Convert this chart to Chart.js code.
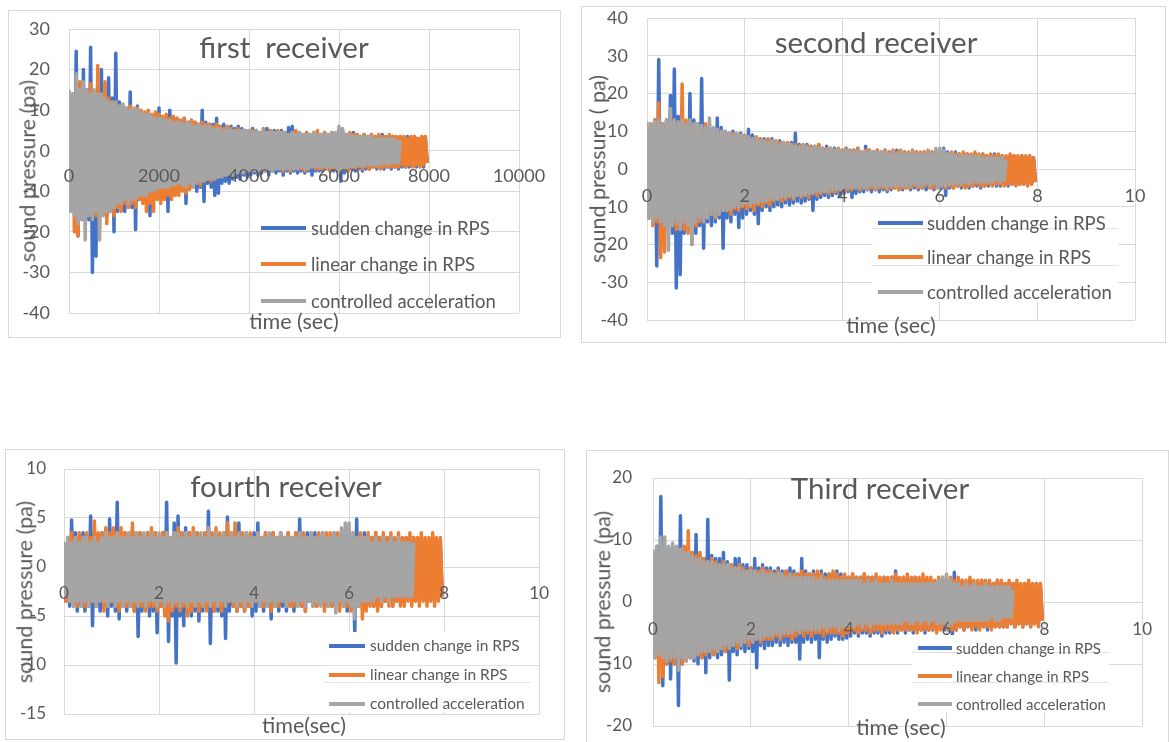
<!DOCTYPE html>
<html>
<head>
<meta charset="utf-8">
<title>Sound pressure at four receivers</title>
<script src="https://cdn.jsdelivr.net/npm/chart.js@4.4.1/dist/chart.umd.min.js"></script>
<style>
  html, body { margin: 0; padding: 0; background: #fff; }
  body { position: relative; width: 1169px; height: 742px; overflow: hidden;
         font-family: Lato, "Open Sans", sans-serif; color: #595959; }
  .frame { position: absolute; border: 1px solid #d9d9d9; box-sizing: border-box; }
  canvas { position: absolute; }
  .txt { position: absolute; white-space: pre; line-height: 1; color: #595959; }
  .legend-bg { position: absolute; background: #fff; }
  .legend-rule { position: absolute; height: 1px; background: #e3e3e3; }
  .legend-line { position: absolute; height: 4px; }
</style>
</head>
<body>
<script>
// ---- sampled sound pressure (Pa) ----
// first receiver: time in samples, one value every 40 samples
const firstStep = 40;
const firstSudden = [
  10,-12,14,-15,24.5,-21,13,-16,20,-14,15,-17,25.5,-30,12,-26,14,-15,20,-13,
  12,-16,18,-14,13,-20,24,-15,12,-13,11,-15,10,-12,14.5,-14,10,-19.5,11,-12,
  9.5,-12,9,-11,9.5,-16,8.5,-12,9,-10.5,10.5,-11,8,-10,8.5,-15,10,-10,8,-9.5,
  8,-10,7.5,-9,8,-13,7,-9.5,7.5,-8.5,7,-10,6.5,-9,10,-12.5,7,-8,6.5,-9,
  6.5,-11,8,-10.5,6,-8,6.5,-7.5,5.5,-8,6,-7,5.5,-6.5,6,-7,5.5,-6,5,-6.5,
  5,-6,5.5,-5.5,5,-6,4.5,-5.5,5,-5,5.5,-6,4.5,-5,5,-5.5,4.5,-5,5,-6,
  4.5,-5,5.7,-5.5,6,-5,4.5,-5.5,4.5,-5,4,-5.5,4.5,-5,4,-6,4.5,-5,4,-5,
  4,-5,4.5,-4.5,4,-5,4.5,-5,4,-4.5,5.5,-7.5,5,-5.5,4,-5,4,-4.5,4.5,-5,
  4,-4.5,3.5,-5,4,-4.5,3.5,-4.5,4,-4,3.5,-4.5,3.5,-4,4,-4.5,3.5,-4,3.5,-4.5,
  3.5,-4,3,-4.5,3.5,-4,3,-4,3.5,-4,3,-3.5,3.5,-4,3,-3.5,3.5,-4,3,-3
];
const firstLinear = [
  12,-14,13,-20,12,-21,17,-15,13,-16,12,-14,16.5,-15,13,-16,21,-19.5,14,-15,
  17,-18,13,-15,12,-16,12,-14,11,-15,11,-13,10.5,-14,11,-13,10,-14,10.5,-12,
  10,-13,9.5,-15,10,-13,9,-15,9.5,-12,9,-13,8.5,-12,9,-11,8,-12,8.5,-11,
  8,-11,7.5,-10,8,-10.5,7,-9.5,7.5,-9,7,-8,6.5,-8.5,7,-7.5,6.5,-7,6.5,-7.5,
  6,-7,6.5,-6.5,6,-6,5.5,-6,6,-5.5,5.5,-5.5,5,-5,5.5,-5.5,5,-5,5,-5,
  4.5,-5,5,-4.5,5,-5,4.5,-4.5,5.5,-5,4.5,-4.5,5,-5,4.5,-4,5,-4.5,4.5,-5,
  4.5,-4.5,4,-5,4.5,-4.5,5,-4,4.5,-4.5,4,-5,4.5,-4.5,4,-4,4.5,-4.5,5,-4.5,
  4,-4.5,4.5,-4,4,-5,4.5,-4.5,4,-4,4,-4.5,4.5,-4.5,4,-5,4.5,-4,4,-4.5,
  4,-4,3.5,-4.5,4,-4,3.5,-4.5,4,-4,3.5,-4,4,-4.5,3.5,-4,3.5,-4,4,-4,
  3.5,-4,3.5,-4,3.5,-3.5,3.5,-4,3,-3.5,3.5,-4,3.5,-3.5,3,-4,3.5,-3.5,3.5,-3
];
const firstControlled = [
  15,-15,14,-16,19,-18,15,-17,17,-22,15,-16,14,-17,15,-15,14,-22,14,-16,
  13,-15,12,-15,12,-14,12,-13,11,-13,11.5,-12,10.5,-13,10,-12,10.5,-12,10,-11,
  9.5,-11,9,-11,9,-10,8.5,-10,8,-9.5,8,-9,8,-9,7.5,-9,7.5,-8.5,7,-8.5,
  7,-8,7,-8.5,6.5,-9,7,-8,6.5,-9,6,-8,6.5,-7.5,6,-7.5,6,-7,6,-7,
  5.5,-7,5.5,-6.5,5.5,-6.5,5,-6,5.5,-6,5,-6,5,-5.5,5,-5.5,5,-5.5,5,-5,
  5,-5,4.5,-5,5,-5,4.5,-4.5,5,-5,4.5,-4.5,4.5,-5,4.5,-4.5,4.5,-4.5,4.5,-4.5,
  4.5,-4.5,4,-4.5,4.5,-4.5,4,-4.5,4.5,-4,4,-4.5,4,-4.5,4,-4,4.5,-4,4,-4,
  4,-4,4,-4.5,4,-4,4.5,-4,4.5,-5,6,-5,5.5,-4.5,4,-4,4,-4,3.5,-4,
  3.5,-3.5,3.5,-4,3.5,-3.5,3.5,-3.5,3.5,-3.5,3,-3.5,3,-3.5,3,-3,3,-3.5,3,-3,
  3,-3,2.5,-3,2.5
];

// second, third and fourth receivers: time in seconds, one value every 0.04 s
const secStep = 0.04;
const secondSudden = [
  11,-13,12,-14,13,-25.7,29,-15,12,-16,13,-14,19.5,-17,26.5,-31.5,14,-28,13,-17,
  12,-16,20,-15,13,-17,12,-15,24,-21,11,-14,12,-15,10.5,-14,13.5,-13,11,-21,
  10,-13,9.5,-14,10,-12,9,-15.5,9.5,-13,8.5,-12,10.5,-11,9,-12,8.5,-14.5,8,-11,
  8,-10,7.5,-11,8,-10,7,-9.5,7.5,-10,7,-9,6.5,-9.5,7,-9,9.5,-8.5,6.5,-9,
  6,-8.5,6.5,-8,6,-11,6,-8,6.5,-7.5,5.5,-7,6,-7.5,5.5,-7,5.5,-6.5,5,-7,
  5,-6.5,5.5,-6,5,-7.5,5,-6.5,5.5,-6,4.5,-6,6,-5.5,5,-6,4.5,-5.5,5,-6,
  4.5,-5.5,5,-6,4.5,-5.5,4.5,-5,5,-5.5,4.5,-5.5,4.5,-5,4,-5.5,4.5,-5,4.5,-5.5,
  4,-5,4.5,-5.5,4,-5,4.5,-5.5,4,-5,4.5,-5,5.5,-7,4.5,-5,4,-5,4.5,-4.5,
  4,-5,3.5,-4.5,4,-5,3.5,-4.5,4,-4.5,3.5,-5,4,-4.5,3.5,-4.5,3.5,-4,4,-4.5,
  3.5,-4.5,3.5,-4,3,-4.5,3.5,-4,3.5,-4,3,-4,3.5,-4,3,-3.5,3.5,-4,3,-3.5
];
const secondLinear = [
  11,-13,12,-15,13,-14,17.5,-23.5,12,-22,13,-15,12,-14,13,-16,12,-15,22.5,-16,
  13,-17,12,-20,12,-15,11.5,-14,11,-13,12,-13,11,-12,10.5,-13,10,-12,10,-11,
  9.5,-11,9,-12,9.5,-10.5,9,-11,8.5,-10,9,-10.5,8.5,-10,8,-11,8.5,-9.5,8,-10,
  7.5,-9,8,-9.5,7,-8.5,7.5,-8,7,-8.5,6.5,-8,7,-7.5,6.5,-8,6.5,-7,6,-7.5,
  6.5,-7,6,-7.5,6,-6.5,5.5,-7,6.5,-6.5,5.5,-6,5.5,-6.5,5.5,-6,5,-6,5.5,-5.5,
  5,-6,5.5,-5.5,5,-5.5,5,-5,5.5,-5.5,4.5,-5,5,-5.5,5,-5,4.5,-5.5,5,-5,
  4.5,-5,5,-5.5,4.5,-5,5,-5,4.5,-5.5,5,-5,4.5,-5,4.5,-5,5,-4.5,4.5,-5,
  4.5,-5,4.5,-4.5,5,-5,4.5,-5,4,-5,4.5,-4.5,4.5,-5,4,-4.5,4.5,-5,4,-4.5,
  4,-4.5,4.5,-5,4,-4.5,4,-4.5,4.5,-4,4,-4.5,4,-4.5,3.5,-4,4,-4.5,3.5,-4,
  4,-4,3.5,-4.5,3.5,-4,4,-4,3.5,-4.5,3.5,-4,3.5,-4,3.5,-4.5,3.5,-4,3,-3.5
];
const secondControlled = [
  12.5,-13,12,-14,12.5,-13,13,-14,12,-15,13,-21.5,16,-15,13,-14,12.5,-16,13,-14,
  12,-15,13,-20,12,-14,12,-13,11.5,-14,11,-13,13.5,-12,11,-12.5,10.5,-12,10,-11,
  10,-11,9.5,-10.5,9,-10,9.5,-10,9,-9.5,8.5,-9,8.5,-9.5,8,-9,8,-9,7.5,-8.5,
  7.5,-8.5,7,-8,7.5,-8,7,-8,6.5,-7.5,7,-7.5,6.5,-7,6.5,-7.5,6,-7,6,-7,
  6,-7,6,-6.5,5.5,-6.5,6,-6,5.5,-6,5.5,-6,5,-6,5.5,-5.5,5,-5.5,5,-5.5,
  5,-5.5,5,-5,5,-5,4.5,-5,5,-5,4.5,-5,4.5,-5,4.5,-4.5,4.5,-5,4.5,-4.5,
  4.5,-4.5,4.5,-5,4,-4.5,4.5,-4.5,4,-4.5,4.5,-4.5,4,-4.5,4,-4.5,4.5,-4,4,-4.5,
  4,-4.5,4,-4,4.5,-4.5,4,-4,5.5,-5,5.5,-4.5,5,-4.5,4,-4,4,-4,3.5,-4,
  3.5,-4,3.5,-3.5,3.5,-4,3.5,-3.5,3.5,-3.5,3.5,-3.5,3,-3.5,3,-3.5,3,-3.5,3,-3,
  3,-3.5,3,-3,2.5
];
const thirdSudden = [
  8,-9,9,-10,17,-13.5,9,-10,8.5,-12.4,9,-10,8,-16.7,13.9,-10,8,-9.5,9,-9,
  8,-9.5,10.9,-10,7.5,-9,7,-11.4,13.3,-9,7.5,-8.5,7,-9,7,-8.5,8,-8,6.5,-12.6,
  6,-8,7,-8.5,7,-7.5,6,-8,6,-7.5,5.5,-8,7,-10.6,5.5,-7,6,-7.5,5.5,-7,
  5.5,-7,5,-6.5,5.5,-7,5,-6.5,5,-7,5.5,-6.5,5,-6.5,4.5,-9.2,7,-6.5,5,-6,
  4.5,-6.5,5,-6,4.5,-9,5,-6,4.5,-6.5,4.5,-6,4.5,-5.5,5,-6,4.5,-6,4,-5.8,
  4,-5.5,4.5,-5,4,-5.5,4,-5,4.5,-5,4,-5.5,4,-5,4,-5,3.5,-5.5,4,-5,
  3.5,-5,4,-4.5,5,-5,3.5,-4.5,4,-5,3.5,-4.5,3.5,-5,4,-4.5,3.5,-4.5,3.5,-5,
  3.5,-4.5,3.5,-4.5,3,-4.5,3.5,-4,3.5,-4.5,3,-4.5,3.5,-5.5,4.8,-4.5,3,-4,3.5,-4.5,
  3,-4,3.5,-4,3,-4.5,3,-4,3.5,-4,3,-4.5,3,-4,3,-4,3.5,-4,3,-4,
  3,-4,3,-3.5,3,-4,3,-3.5,2.5,-4,3,-3.5,3,-4,2.5,-3.5,3,-3.5,2.5,-3
];
const thirdLinear = [
  7,-9,8,-13,8.5,-12,8,-10,7.5,-9.5,8,-10,8.5,-9,8,-10,9,-9.5,11.5,-9,
  8,-9,7.5,-8.5,8,-9,7,-8.5,6.5,-8,7,-8.5,6.5,-8,6,-7.5,6.5,-8,6,-7.5,
  6,-7,5.5,-7.5,6,-7,5.5,-6.5,5,-7,5.5,-6.5,5,-6,5,-6.5,5.5,-6,5,-6,
  5,-6,4.5,-5.5,5,-6,4.5,-5.5,5,-5.5,4.5,-6,4.5,-5.5,4.5,-5,5,-5.5,4.5,-5,
  4.5,-5.5,4.5,-5,5,-5,4.5,-5.5,4,-5,4.5,-5,5,-5,4.5,-5,4,-5.5,4.5,-5,
  4,-5,4.5,-4.5,4,-5,4,-4.5,4.5,-4.5,4,-5,4,-4.5,4.5,-4.5,4,-5,4,-4.5,
  4,-4.5,4,-5,4.5,-4.5,4,-4.5,4,-4.5,4.5,-4.5,4,-4.5,4,-5,4,-4.5,4.5,-4.5,
  4,-4.5,4,-4.5,3.5,-5,4,-4.5,4,-4,3.5,-4.5,4,-4.5,3.5,-4.5,4,-4,3.5,-4.5,
  3.5,-4,4,-4.5,3.5,-4,3.5,-4.5,3.5,-4,3.5,-4,3.5,-4.5,3,-4,3.5,-4,3.5,-4,
  3,-4,3.5,-3.5,3,-4,3.5,-3.5,3,-4,3,-3.5,3.5,-4,3,-3.5,3,-4,3,-3
];
const thirdControlled = [
  8.5,-9,9,-8.5,10.5,-9,10.5,-9.5,9,-9,9.5,-9,9,-11,8.5,-9,8,-9.5,8,-9,
  7.5,-9,7,-8.5,7,-8,6.5,-8,6.5,-8,6.5,-7.5,6,-8,6,-7.5,6,-7,6,-7.5,
  5.5,-7,5.5,-6.5,5.5,-7,5,-6.5,5,-6,5,-6.5,5,-6,4.5,-6,5,-5.5,4.5,-5.5,
  4.5,-5.5,4.5,-5,4.5,-5.5,4.5,-5,4,-5,4.5,-5,4,-4.5,4,-5,4,-4.5,4,-4.5,
  4,-4.5,4,-4.5,3.5,-4.5,4,-4,3.5,-4.5,3.5,-4,3.5,-4,3.5,-4.5,3.5,-4,3.5,-4,
  3.5,-4,3.5,-4,3.5,-3.5,3.5,-4,3,-3.5,3.5,-4,3,-3.5,3.5,-3.5,3,-3.5,3,-3.5,
  3,-3.5,3.5,-3.5,3,-3.5,3,-3.5,3,-3,3,-3.5,3,-3.5,3,-3,3,-3.5,3,-3,
  3,-3.5,3,-3,3,-3.5,3.5,-3.5,4,-3.5,4.5,-4,3.5,-3.5,3,-3,3,-3,2.5,-3,
  3,-3,2.5,-3,3,-3,2.5,-3,2.5,-3,3,-3,2.5,-2.5,2.5,-3,2.5,-3,2.5,-2.5,
  2.5,-2.5,2.5,-2.5,2
];
const fourthSudden = [
  2.5,-3.5,3,-4,4.8,-3.5,3.5,-4.5,3,-4,3.5,-4.5,3,-4,5.2,-6,3.5,-4,3,-4.5,
  3.5,-4,3,-5,4.9,-4,3.5,-4.5,6.6,-5.3,3,-4,3.5,-4.5,3,-4,3.7,-4.5,3,-7.1,
  3.5,-4.5,3,-4,3.5,-5,3,-4.5,3.5,-6.7,3,-4,3.5,-4.5,6.6,-7.6,3,-5,4.5,-9.8,
  5.2,-5,3.5,-6,4,-4.5,3.5,-5,3,-4.5,3.5,-5.5,3,-4.5,3.5,-4,5.7,-7.8,3,-4.5,
  3.5,-4.5,3,-5,3.5,-7.3,5.1,-4.5,3,-4,3.5,-4.5,4.5,-4,3,-4.5,3.5,-4,3,-5,
  3.5,-4.5,4.5,-4,3,-4.5,3.5,-4,3,-5.3,3.5,-4,3,-4.5,3.5,-4,3,-4.5,3.5,-4,
  3,-4.5,3.5,-4,4.9,-4,3,-4.5,3.5,-3.5,3,-4,3.5,-4,3,-3.5,3.5,-4,3,-4,
  3,-4,3.5,-3.5,3,-4,3.5,-4,3,-4.5,3.5,-4,3,-6.8,4.9,-4,3,-4,3.5,-3.5,
  3,-3.5,3,-4,3.5,-3.5,3,-4,2.5,-3.5,3,-3.5,3,-4,2.5,-3.5,3,-3.5,2.5,-3.5,
  3,-3,2.5,-3.5,3,-3,2.5,-3.5,3,-3,2.5,-3.5,2.5,-3,3,-3.5,2.5,-3,2.5,-3
];
const fourthLinear = [
  2.5,-3.5,3,-3.5,3.5,-4,3,-4,3.5,-3.5,3,-4,3.5,-4,3,-3.5,4.7,-4,3.5,-3.5,
  3.5,-4.5,4,-4,3.5,-3.5,4,-4,3.5,-4.5,4,-4,3.5,-4,3.5,-4,4.5,-4.5,3.5,-4,
  3.5,-4,3,-4.5,3.5,-4,4,-4,3.5,-4.5,3,-4,3.5,-5,3.5,-5.5,3,-4.5,3.5,-4,
  4,-4.5,3.5,-4,3,-5,3.5,-4.5,4,-4,3.5,-4.5,3,-4,3.5,-4.5,4,-4,3.5,-4.5,
  4,-4,3.5,-4.5,3,-4,4.5,-3.5,3.5,-4,4.5,-4.5,3,-4,3.5,-4.5,3,-4,3.5,-4,
  3,-3.5,3.5,-4,3,-4,3.5,-3.5,3,-4.5,3.5,-4,3,-4,3.5,-3.5,3,-4,3.5,-4,
  3,-4,3.5,-3.5,3,-4,3.5,-4.5,3,-3.5,3.5,-4,3,-4,3.5,-3.5,3,-4.5,3.5,-4,
  3.5,-4,3,-3.5,3.5,-4.5,3,-4,3.5,-4,3,-4.5,3.5,-4,3,-4,3.5,-5.3,3,-4.5,
  3.5,-4,3,-4,3.5,-4.5,3,-4,3.5,-3.5,3,-4,3.5,-4,3,-3.5,3.5,-4,3,-4,
  3,-3.5,3.5,-4,3,-3.5,3,-4,3.5,-3.5,3,-4,3,-3.5,3.5,-4,3,-3.5,3,-3
];
const fourthControlled = [
  2.5,-3,3,-3.5,2.5,-4,3,-3.5,2.5,-4,3,-3.5,3,-4,2.5,-3.5,3,-4,2.5,-3.5,
  3,-3.5,3.5,-4,3,-3.5,3,-4,3.5,-3.5,3,-4,3,-3.5,3.5,-4,3,-3.5,3.5,-4,
  3,-3.5,3.5,-4,3,-3.5,3.5,-3.5,3,-4,3.5,-3.5,3,-4,3.5,-3.5,3,-4,3.5,-3.5,
  3.5,-4,3,-3.5,3.5,-4,3,-3.5,3.5,-4,3,-3.5,3.5,-4,3,-3.5,4,-4,3,-3.5,
  3.5,-4,3,-3.5,3.5,-4,3,-3.5,3.5,-3.5,3,-4,3.5,-3.5,3,-4,3.5,-3.5,3,-4,
  3,-3.5,3.5,-4,3,-3.5,3,-4,3.5,-3.5,3,-4,3,-3.5,3.5,-3.5,3,-4,3,-3.5,
  3,-3.5,3,-4,3.5,-3.5,3,-4,3,-3.5,3.5,-4,3,-3.5,3,-4,3.5,-3.5,3,-4,
  3,-3.5,3.5,-4.7,3,-3.5,4,-4,4.5,-3.5,4.5,-4,3.5,-5.3,3,-4,3,-3.5,3,-3.5,
  3,-3.5,2.5,-3.5,3,-3,2.5,-3.5,3,-3,2.5,-3.5,3,-3,2.5,-3,3,-3,2.5,-3,
  2.5,-3,2.5,-3,2.5
];

const seriesNames = ['sudden change in RPS', 'linear change in RPS', 'controlled acceleration'];
const seriesColors = ['#4472C4', '#ED7D31', '#A5A5A5'];

// ---- layout of the four panels (page pixels) ----
const panels = [
  { box: [8, 10, 561, 338], plot: [69, 29, 519, 313],
    x: { max: 10000, step: 2000 }, y: { min: -40, max: 30, step: 10 },
    dt: firstStep, values: [firstSudden, firstLinear, firstControlled],
    title: 'first  receiver', titleAt: [284, 47],
    xTitle: 'time (sec)', xTitleAt: [294, 322], yTitle: 'sound pressure (pa)', yTitleAt: [28, 171],
    tickSize: 18, yGap: 19, xGap: 15,
    legend: { bg: null, rules: [], rows: [228, 264, 301], line: [261, 306], textX: 311, size: 18.5 } },
  { box: [581, 6, 1166, 343], plot: [647, 18, 1135, 320],
    x: { max: 10, step: 2 }, y: { min: -40, max: 40, step: 10 },
    dt: secStep, values: [secondSudden, secondLinear, secondControlled],
    title: 'second receiver', titleAt: [876, 42],
    xTitle: 'time (sec)', xTitleAt: [891, 326], yTitle: 'sound pressure ( pa)', yTitleAt: [598, 169],
    tickSize: 18, yGap: 19, xGap: 16,
    legend: { bg: [872, 207, 1118, 302], rules: [228, 265], rows: [223, 257, 292], line: [878, 923], textX: 927, size: 18.5 } },
  { box: [5, 449, 565, 740], plot: [64, 469, 543, 714],
    x: { max: 10, step: 2 }, y: { min: -15, max: 10, step: 5 },
    dt: secStep, values: [fourthSudden, fourthLinear, fourthControlled],
    title: 'fourth receiver', titleAt: [286, 486],
    xTitle: 'time(sec)', xTitleAt: [304, 726], yTitle: 'sound pressure (pa)', yTitleAt: [25, 592],
    tickSize: 17, yGap: 18, xGap: 16,
    legend: { bg: [324, 632, 531, 712], rules: [665, 682], rows: [646, 675, 704], line: [329, 365], textX: 370, size: 15.5 } },
  { box: [586, 450, 1169, 743], plot: [653, 478, 1151, 726],
    x: { max: 10, step: 2 }, y: { min: -20, max: 20, step: 10 },
    dt: secStep, values: [thirdSudden, thirdLinear, thirdControlled],
    title: 'Third receiver', titleAt: [880, 488],
    xTitle: 'time (sec)', xTitleAt: [901, 728], yTitle: 'sound pressure (pa)', yTitleAt: [603, 602],
    tickSize: 17, yGap: 21, xGap: 17,
    legend: { bg: [912, 635, 1109, 712], rules: [652, 682], rows: [648, 676, 704], line: [918, 952], textX: 956, size: 15 } }
];

const FONT = 'Lato, "Open Sans", sans-serif';
const INK = '#595959';
const GRID = '#d9d9d9';
const TITLE_SIZE = 29.5;
const AXIS_TITLE_SIZE = 21.5;
const MARGIN = 60;   // spare canvas above and below each plot

function samples(values, dt) {
  return values.map((v, i) => ({ x: Math.round(i * dt * 1000) / 1000, y: v }));
}

function addText(str, x, y, size, opts = {}) {
  const d = document.createElement('div');
  d.className = 'txt';
  d.textContent = str;
  d.style.left = x + 'px';
  d.style.top = y + 'px';
  d.style.fontSize = size + 'px';
  let t = opts.left ? 'translate(0,-50%)' : 'translate(-50%,-50%)';
  if (opts.rotate) t += ' rotate(-90deg)';
  d.style.transform = t;
  document.body.appendChild(d);
}

function addBlock(cls, left, top, width, styles = {}) {
  const d = document.createElement('div');
  d.className = cls;
  Object.assign(d.style, { left: left + 'px', top: top + 'px', width: width + 'px' }, styles);
  document.body.appendChild(d);
  return d;
}

panels.forEach(p => {
  const [bx, by, br, bb] = p.box;
  const [pl, pt, pr, pb] = p.plot;

  addBlock('frame', bx, by, br - bx, { height: (bb - by) + 'px' });

  // canvas spans the panel width and the plot height plus a margin
  const cTop = pt - MARGIN, cH = (pb - pt) + 2 * MARGIN, cW = br - bx;
  const cv = document.createElement('canvas');
  cv.width = cW;
  cv.height = cH;
  Object.assign(cv.style, { left: bx + 'px', top: cTop + 'px', width: cW + 'px', height: cH + 'px' });
  document.body.appendChild(cv);

  const datasets = p.values.map((vals, k) => ({
    label: seriesNames[k],
    data: samples(vals, p.dt),
    borderColor: seriesColors[k],
    backgroundColor: seriesColors[k],
    borderWidth: 3.5,
    borderJoinStyle: 'round',
    fill: 'origin',
    pointRadius: 0,
    tension: 0,
    order: 3 - k
  }));

  const tickFont = { family: FONT, size: p.tickSize };
  const padding = { left: 0, top: MARGIN, right: br - pr, bottom: MARGIN };
  const chart = new Chart(cv, {
    type: 'line',
    data: { datasets },
    options: {
      responsive: false,
      animation: false,
      devicePixelRatio: 1,
      layout: { padding },
      plugins: { legend: { display: false }, title: { display: false }, tooltip: { enabled: false } },
      scales: {
        x: {
          type: 'linear', min: 0, max: p.x.max,
          position: { y: 0 },
          grid: { color: GRID, drawTicks: false },
          border: { color: GRID },
          ticks: { stepSize: p.x.step, padding: p.xGap, color: INK, font: tickFont, z: 1,
                   maxRotation: 0, autoSkip: false, callback: v => String(v) }
        },
        y: {
          type: 'linear', min: p.y.min, max: p.y.max,
          grid: { color: GRID, drawTicks: false },
          border: { color: GRID },
          ticks: { stepSize: p.y.step, padding: p.yGap, color: INK, font: tickFont, callback: v => String(v) },
          afterFit: s => { s.width = pl - bx; }
        }
      }
    }
  });

  // nudge the padding until the plot area sits where it belongs
  for (let k = 0; k < 4; k++) {
    const a = chart.chartArea;
    const dTop = (pt - cTop) - a.top;
    const dBot = (pb - cTop) - a.bottom;
    const dRight = (pr - bx) - a.right;
    if (Math.abs(dTop) < 0.5 && Math.abs(dBot) < 0.5 && Math.abs(dRight) < 0.5) break;
    const pad = chart.config.options.layout.padding;
    pad.top += dTop;
    pad.bottom -= dBot;
    pad.right -= dRight;
    chart.update('none');
  }

  // titles
  addText(p.title, p.titleAt[0], p.titleAt[1], TITLE_SIZE);
  addText(p.xTitle, p.xTitleAt[0], p.xTitleAt[1], AXIS_TITLE_SIZE);
  addText(p.yTitle, p.yTitleAt[0], p.yTitleAt[1], AXIS_TITLE_SIZE, { rotate: true });

  // legend
  const L = p.legend;
  if (L.bg) {
    addBlock('legend-bg', L.bg[0], L.bg[1], L.bg[2] - L.bg[0], { height: (L.bg[3] - L.bg[1]) + 'px' });
    L.rules.forEach(ry => addBlock('legend-rule', L.bg[0], ry, L.bg[2] - L.bg[0]));
  }
  L.rows.forEach((ry, k) => {
    addBlock('legend-line', L.line[0], ry - 2, L.line[1] - L.line[0], { background: seriesColors[k] });
    addText(seriesNames[k], L.textX, ry, L.size, { left: true });
  });
});
</script>
</body>
</html>
